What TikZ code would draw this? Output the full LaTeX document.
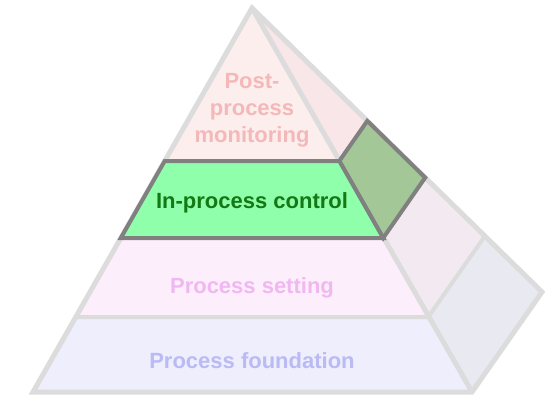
\documentclass[tikz,border=0pt]{standalone}
\usepackage{fontspec}
\setmainfont{Liberation Sans}
\definecolor{edgegrey}{RGB}{220,220,220}
\definecolor{darkedge}{RGB}{128,128,128}
\definecolor{topfill}{RGB}{253,238,238}
\definecolor{topside}{RGB}{248,230,232}
\definecolor{setfill}{RGB}{253,238,252}
\definecolor{setside}{RGB}{242,234,240}
\definecolor{foundfill}{RGB}{238,238,253}
\definecolor{foundside}{RGB}{233,233,242}
\definecolor{greenfront}{RGB}{143,255,172}
\definecolor{greenside}{RGB}{163,199,150}
\definecolor{toptext}{RGB}{244,184,184}
\definecolor{settext}{RGB}{240,184,240}
\definecolor{foundtext}{RGB}{186,186,244}
\definecolor{greentext}{RGB}{20,120,20}
\tikzset{
  lightedge/.style={draw=edgegrey, line width=5pt, line join=miter},
  bandline/.style={draw=edgegrey, line width=4pt},
  darkborder/.style={draw=darkedge, line width=4pt, line join=miter},
  label/.style={font=\fontsize{22}{26}\selectfont\bfseries, anchor=base, inner sep=0pt}
}
\begin{document}
\begin{tikzpicture}[x=1pt,y=-1pt]
\useasboundingbox (0,0) rectangle (547,397);
% key points
\coordinate (A) at (252,8);
\coordinate (L) at (33,392);
\coordinate (R) at (472,392);
\coordinate (B) at (542,292);
\coordinate (l1) at (164.7,161);
\coordinate (r1) at (339.3,161);
\coordinate (l2) at (120.8,238);
\coordinate (r2) at (383.2,238);
\coordinate (l3) at (75.8,317);
\coordinate (r3) at (428.2,317);
\coordinate (p1) at (367.3,120.9);
\coordinate (p2) at (425.2,177.6);
\coordinate (p3) at (484.9,236.1);
% fills of front bands
\fill[topfill] (A) -- (r1) -- (l1) -- cycle;
\fill[setfill] (l2) -- (r2) -- (r3) -- (l3) -- cycle;
\fill[foundfill] (l3) -- (r3) -- (R) -- (L) -- cycle;
% fills of side bands
\fill[topside] (A) -- (p1) -- (r1) -- cycle;
\fill[setside] (r2) -- (p2) -- (p3) -- (r3) -- cycle;
\fill[foundside] (r3) -- (p3) -- (B) -- (R) -- cycle;
% light grey edges
\draw[bandline] (l3) -- (r3) -- (p3);
\draw[bandline] (l1) -- (r1);
\draw[lightedge] (A) -- (L) -- (R) -- (B) -- cycle;
\draw[lightedge] (A) -- (R);
% highlighted band
\filldraw[fill=greenside, darkborder] (r1) -- (p1) -- (p2) -- (r2) -- cycle;
\filldraw[fill=greenfront, darkborder] (l1) -- (r1) -- (r2) -- (l2) -- cycle;
% labels
\node[label, text=toptext] (post1) at (252,88) {Post-};
\node[label, text=toptext] (post2) at (252,115) {process};
\node[label, text=toptext] (post3) at (252,142) {monitoring};
\node[label, text=greentext] (ctrl) at (252,208) {In-process control};
\node[label, text=settext] (setting) at (252,293) {Process setting};
\node[label, text=foundtext] (found) at (252,368) {Process foundation};
\end{tikzpicture}
\end{document}
